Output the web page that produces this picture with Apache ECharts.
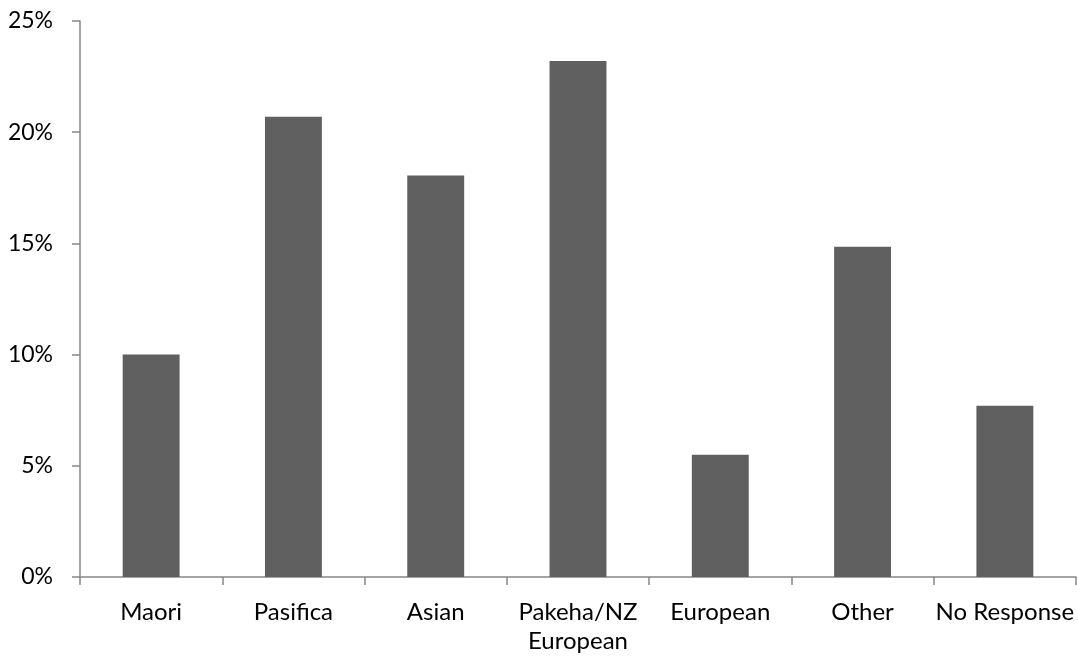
<!DOCTYPE html>
<html><head><meta charset="utf-8">
<script src="https://cdn.jsdelivr.net/npm/echarts@6/dist/echarts.min.js"></script>
<style>html,body{margin:0;padding:0;background:#fff}#c{width:1078px;height:656px}</style>
</head><body><div id="c"></div>
<script>
const categories = ['Maori','Pasifica','Asian','Pakeha/NZ\nEuropean','European','Other','No Response'];
const values = [10.0, 20.7, 18.05, 23.2, 5.5, 14.85, 7.7];
const yTicks = [0,5,10,15,20,25];
const axisColor = '#878787';
const font = 'Lato';
const chart = echarts.init(document.getElementById('c'), null, {renderer:'canvas'});
chart.setOption({
  animation:false,
  grid:{left:80,right:2,top:21,bottom:79,containLabel:false},
  xAxis:{type:'category',data:categories,
    axisLine:{show:true,lineStyle:{color:axisColor,width:1.5}},
    axisTick:{show:true,length:8,alignWithLabel:false,lineStyle:{color:axisColor,width:1.5}},
    axisLabel:{color:'#000',fontFamily:font,fontSize:24,margin:21,lineHeight:29,interval:0}},
  yAxis:{type:'value',min:yTicks[0],max:yTicks[yTicks.length-1],interval:5,
    axisLine:{show:true,lineStyle:{color:axisColor,width:1.5}},
    axisTick:{show:true,length:8,lineStyle:{color:axisColor,width:1.5}},
    splitLine:{show:false},
    axisLabel:{color:'#000',fontFamily:font,fontSize:23,margin:27,formatter:v=>v+'%'}},
  series:[{type:'bar',data:values,barWidth:'40%',itemStyle:{color:'#606060'}}]
});
</script></body></html>
